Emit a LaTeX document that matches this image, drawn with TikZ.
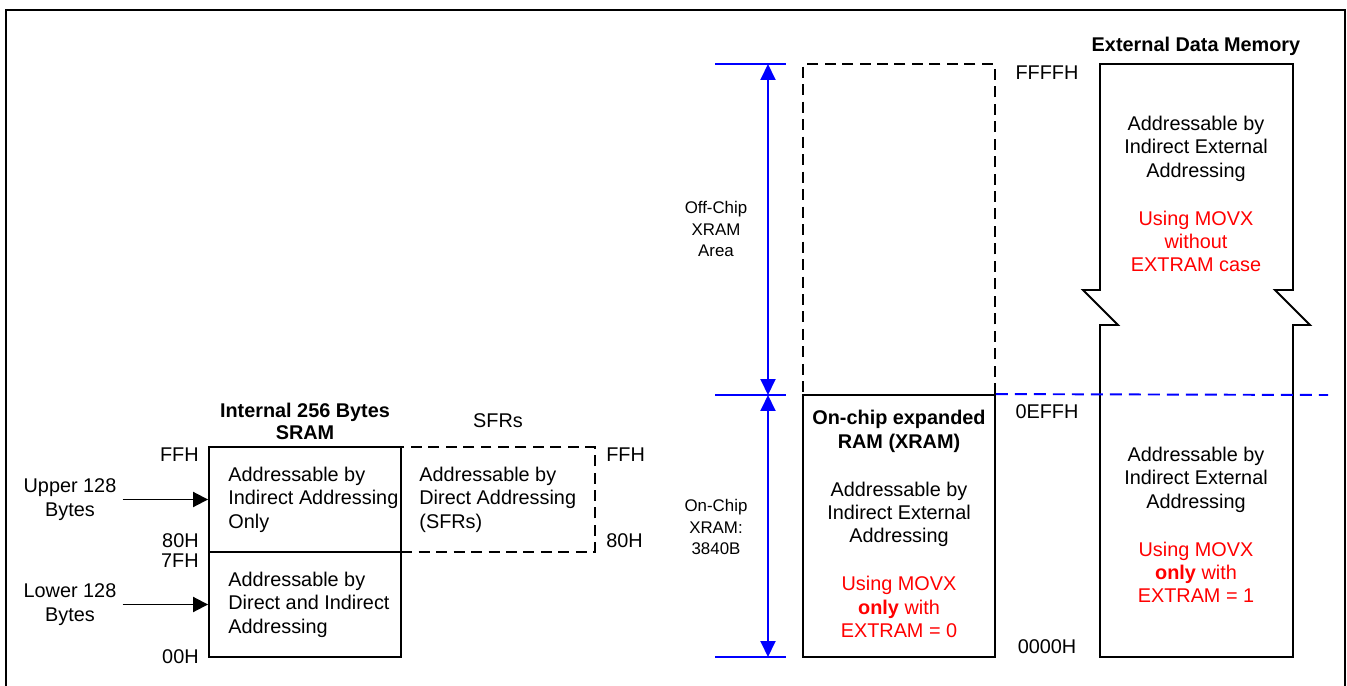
\documentclass[tikz,border=0pt]{standalone}
\usepackage{fontspec}
\setmainfont{Liberation Sans}
\usepackage{xcolor}
\usetikzlibrary{arrows.meta, positioning}
\tikzset{
  cell/.style={draw, line width=1.1pt, minimum width=3.84cm, inner sep=0pt},
  ghost/.style={cell, dash pattern=on 0.22cm off 0.13cm},
  body/.style={inner sep=0pt, font=\fontsize{11.3}{13.3}\selectfont},
  lefttxt/.style={body, align=left},
  midtxt/.style={body, align=center},
  title/.style={body, align=center, font=\fontsize{11.3}{12.6}\selectfont\bfseries},
  addr/.style={body},
  note/.style={inner sep=0pt, align=center, font=\fontsize{9.6}{12}\selectfont},
  pointer/.style={-{Triangle[length=0.3cm, width=0.3cm]}, line width=1.1pt},
  span/.style={{Triangle[length=0.32cm, width=0.3cm]}-{Triangle[length=0.32cm, width=0.3cm]}, blue, line width=1.1pt},
  tick/.style={blue, line width=1.1pt},
  level/.style={blue, line width=1.1pt, dash pattern=on 0.24cm off 0.14cm}
}
\newcommand{\movx}[1]{\textcolor{red}{#1}}

\begin{document}
\begin{tikzpicture}[x=0.02cm, y=-0.02cm]
  \useasboundingbox (0,0) rectangle (1347,686);
  \draw[line width=1.1pt] (6,686) -- (6,10) -- (1345,10) -- (1345,686);

  % internal 256 bytes
  \node[ghost, minimum width=3.88cm, minimum height=2.1cm] (sfr) at (498,499.5) {};
  \node[cell, minimum height=2.1cm] (upper) at (305,499.5) {};
  \node[cell, minimum height=2.1cm] (lower) at (305,604.5) {};
  \node[lefttxt, right=0.4cm of upper.west] (uppertxt) {Addressable by\\Indirect Addressing\\Only};
  \node[lefttxt, right=0.4cm of lower.west] (lowertxt) {Addressable by\\Direct and Indirect\\Addressing};
  \node[lefttxt, right=0.38cm of sfr.west] (sfrtxt) {Addressable by\\Direct Addressing\\(SFRs)};
  \node[title] (sramhead) at (305,421) {Internal 256 Bytes\\SRAM};
  \node[body] (sfrhead) at (498,421) {SFRs};

  \node[addr, anchor=east] (sramff) at (199,455) {FFH};
  \node[addr, anchor=east] (sram80) at (199,541) {80H};
  \node[addr, anchor=east] (sram7f) at (199,561) {7FH};
  \node[addr, anchor=east] (sram00) at (199,657) {00H};
  \node[addr, anchor=west] (sfrff) at (606,455) {FFH};
  \node[addr, anchor=west] (sfr80) at (606,541) {80H};

  \node[midtxt] (upperlbl) at (70,499.5) {Upper 128\\Bytes};
  \node[midtxt] (lowerlbl) at (70,604.5) {Lower 128\\Bytes};
  \draw[pointer, shorten <=0.12cm] (upperlbl) -- (upper);
  \draw[pointer, shorten <=0.12cm] (lowerlbl) -- (lower);

  % expanded RAM
  \node[ghost, minimum height=6.62cm] (offchip) at (899,229.5) {};
  \node[cell, minimum height=5.24cm] (xram) at (899,526) {};
  \node[midtxt] (xramtxt) at (899,524) {\textbf{On-chip expanded}\\\textbf{RAM (XRAM)}\\[14pt]Addressable by\\Indirect External\\Addressing\\[14pt]\movx{Using MOVX}\\\movx{\textbf{only} with}\\\movx{EXTRAM = 0}};

  % external data memory
  \draw[line width=1.1pt] (1100,657) -- (1100,325) -- (1118,325) -- (1083,290) -- (1100,290)
    -- (1100,64) -- (1293,64) -- (1293,290) -- (1275,290) -- (1310,325) -- (1293,325) -- (1293,657) -- cycle;
  \node[title] (exthead) at (1196,46) {External Data Memory};
  \node[midtxt] (exttop) at (1196,194) {Addressable by\\Indirect External\\Addressing\\[14pt]\movx{Using MOVX}\\\movx{without}\\\movx{EXTRAM case}};
  \node[midtxt] (extlow) at (1196,525) {Addressable by\\Indirect External\\Addressing\\[14pt]\movx{Using MOVX}\\\movx{\textbf{only} with}\\\movx{EXTRAM = 1}};
  \node[addr] (xffff) at (1047,73) {FFFFH};
  \node[addr] (x0eff) at (1047,412) {0EFFH};
  \node[addr] (x0000) at (1047,647) {0000H};

  % blue span marks
  \coordinate (spantop) at (768,64);
  \coordinate (spanmid) at (768,395);
  \coordinate (spanbot) at (768,657);
  \coordinate (levelend) at (1328,395);
  \draw[tick] ([xshift=-1.06cm]spantop) -- ([xshift=0.36cm]spantop);
  \draw[tick] ([xshift=-1.06cm]spanmid) -- ([xshift=0.36cm]spanmid);
  \draw[tick] ([xshift=-1.06cm]spanbot) -- ([xshift=0.36cm]spanbot);
  \draw[span] (spantop) -- (spanmid);
  \draw[span] (spanmid) -- (spanbot);
  \draw[level] (xram.north east) -- (levelend);
  \node[note] (offlbl) at (716,229) {Off-Chip\\XRAM\\Area};
  \node[note] (onlbl) at (716,527) {On-Chip\\XRAM:\\3840B};
\end{tikzpicture}
\end{document}
